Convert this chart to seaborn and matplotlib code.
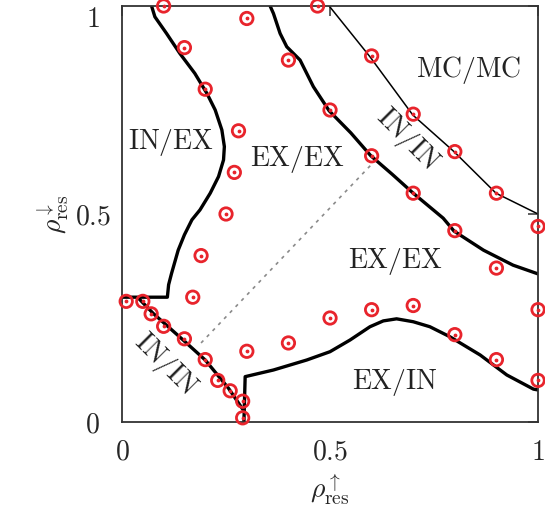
import seaborn as sns
import matplotlib.pyplot as plt
import pandas as pd

# simulation points (red circles)
pts_x = [0.10, 0.30, 0.15, 0.20, 0.40, 0.28, 0.27, 0.25, 0.19, 0.17,
         0.47, 0.60, 0.50, 0.70, 0.80, 0.60, 0.90, 0.70,
         0.01, 0.05, 0.07, 0.10, 0.15, 0.20, 0.23, 0.26, 0.29, 0.29, 0.30, 0.40,
         0.80, 1.00, 0.90, 0.50, 0.60, 0.70, 1.00, 0.80, 0.90, 1.00]
pts_y = [1.00, 0.97, 0.90, 0.80, 0.87, 0.70, 0.60, 0.50, 0.40, 0.30,
         1.00, 0.88, 0.75, 0.74, 0.65, 0.64, 0.55, 0.55,
         0.29, 0.29, 0.26, 0.23, 0.20, 0.15, 0.10, 0.075, 0.05, 0.01, 0.17, 0.19,
         0.46, 0.47, 0.37, 0.25, 0.27, 0.28, 0.27, 0.21, 0.15, 0.10]

# phase boundaries
inex_x = [0.0, 0.109, 0.112, 0.119, 0.135, 0.150, 0.168, 0.1875, 0.212, 0.232,
          0.244, 0.246, 0.24, 0.224, 0.204, 0.175, 0.139, 0.107, 0.079, 0.071]
inex_y = [0.30, 0.30, 0.33, 0.357, 0.413, 0.45, 0.486, 0.51, 0.55, 0.59,
          0.63, 0.662, 0.702, 0.75, 0.79, 0.838, 0.886, 0.934, 0.974, 1.0]

exex_x = [0.356, 0.364, 0.38, 0.396, 0.428, 0.46, 0.498, 0.55, 0.598, 0.65,
          0.70, 0.772, 0.798, 0.835, 0.869, 0.94, 1.0]
exex_y = [1.0, 0.982, 0.934, 0.902, 0.87, 0.806, 0.748, 0.695, 0.64, 0.595,
          0.55, 0.49, 0.459, 0.435, 0.413, 0.377, 0.356]

mc_x = [0.498, 0.596, 0.699, 0.798, 0.899, 1.0]
mc_y = [1.0, 0.878, 0.738, 0.65, 0.55, 0.50]

inin_x = [0.04, 0.075, 0.147, 0.20, 0.256, 0.293, 0.293]
inin_y = [0.297, 0.261, 0.197, 0.149, 0.081, 0.053, 0.0]

exin_x = [0.293, 0.296, 0.364, 0.444, 0.50, 0.548, 0.596, 0.628, 0.66, 0.70,
          0.74, 0.788, 0.861, 0.925, 0.989, 1.0]
exin_y = [0.0, 0.109, 0.125, 0.149, 0.169, 0.197, 0.229, 0.243, 0.248, 0.241,
          0.229, 0.205, 0.161, 0.113, 0.079, 0.077]

diag_x = [0.19, 0.61]
diag_y = [0.19, 0.63]

labels = ["IN/EX", "EX/EX", "MC/MC", "IN/IN", "EX/EX", "IN/IN", "EX/IN"]
label_x = [0.118, 0.421, 0.832, 0.685, 0.656, 0.103, 0.656]
label_y = [0.671, 0.63, 0.846, 0.678, 0.385, 0.137, 0.094]
label_rot = [0, 0, 0, -45, 0, -45, 0]

sns.set_style("white")
plt.rcParams["mathtext.fontset"] = "cm"
plt.rcParams["font.family"] = ["DejaVu Serif"]

fig = plt.figure(figsize=(5.45, 5.13), dpi=100)
ax = fig.add_axes([0.2239, 0.1774, 0.7633, 0.8109])

red = "#e8242c"
for cx, cy, lw in [(inex_x, inex_y, 2.4), (exex_x, exex_y, 2.4), (mc_x, mc_y, 1.1),
                   (inin_x, inin_y, 2.4), (exin_x, exin_y, 2.4)]:
    df = pd.DataFrame({"x": cx, "y": cy})
    sns.lineplot(data=df, x="x", y="y", sort=False, color="black", lw=lw, ax=ax)

sns.lineplot(x=diag_x, y=diag_y, color="#8a8a8a", lw=1.2, ax=ax,
             linestyle=(0, (2, 3)))

ax.scatter(pts_x, pts_y, s=80, facecolors="none", edgecolors=red,
           linewidths=2.0, zorder=5, clip_on=False)
ax.scatter(pts_x, pts_y, s=3, color=red, zorder=6, clip_on=False)

for t, lx, ly, r in zip(labels, label_x, label_y, label_rot):
    ax.text(lx, ly, r"$\mathrm{" + t + "}$", fontsize=20, rotation=r,
            ha="center", va="center", color="#222222")

ax.set_xlim(0, 1)
ax.set_ylim(0, 1)
ax.set_xticks([0, 0.5, 1])
ax.set_yticks([0, 0.5, 1])
ax.set_xticklabels(["$0$", "$0.5$", "$1$"], fontsize=20)
ax.set_yticklabels(["$0$", "$0.5$", "$1$"], fontsize=20)
ax.tick_params(direction="in", length=7, width=1.1, top=True, right=True,
               color="#333333")
ax.tick_params(axis="x", pad=12)
ax.tick_params(axis="y", pad=21)
ylabs = ax.get_yticklabels()
for lab in ylabs:
    lab.set_ha("center")
ylabs[-1].set_va("top")
for s in ax.spines.values():
    s.set_color("#333333")
    s.set_linewidth(1.3)

ax.set_xlabel(r"$\rho^{\uparrow}_{\rm res}$", fontsize=20, labelpad=4)
ax.set_ylabel(r"$\rho^{\downarrow}_{\rm res}$", fontsize=20, labelpad=2)

fig.savefig("out.png", dpi=100)
